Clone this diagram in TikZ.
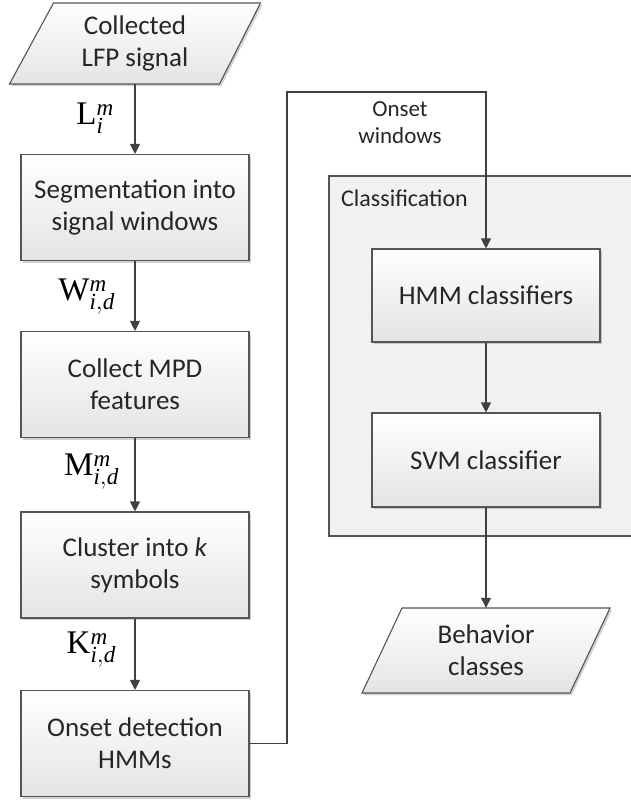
\documentclass[tikz,border=0pt]{standalone}
\usepackage{fontspec}
\setmainfont{Carlito}
\setmathrm{Liberation Serif}
\usetikzlibrary{arrows.meta,shadows}
\definecolor{edge}{HTML}{555555}
\definecolor{wire}{HTML}{404040}
\definecolor{ink}{HTML}{262626}
\definecolor{boxlow}{HTML}{E4E4E4}
\definecolor{groupfill}{HTML}{F1F1F1}
% symbol with an italic superscript and a slightly lowered italic subscript
\newcommand{\seqsym}[3]{$\mathrm{#1}^{\mathit{#2}}_{\raisebox{-3pt}{$\scriptstyle\mathit{#3}$}}$}
\begin{document}
\begin{tikzpicture}[x=1pt,y=-1pt,
  softshadow/.style={drop shadow={shadow xshift=2pt,shadow yshift=-2pt,opacity=0.18,fill=black}},
  stepbox/.style={draw=edge,line width=1.1pt,top color=white,bottom color=boxlow,
    minimum width=228pt,minimum height=106pt,inner sep=0pt,align=center,
    font=\fontsize{27}{32}\selectfont,text=ink,softshadow},
  ioshape/.style={draw=edge,line width=1.1pt,top color=white,bottom color=boxlow,softshadow},
  iotext/.style={inner sep=0pt,align=center,font=\fontsize{27}{32}\selectfont,text=ink},
  flow/.style={draw=wire,line width=1.1pt,-{Triangle[length=10pt,width=10pt]}},
  sym/.style={inner sep=0pt,anchor=east,text=black,font=\fontsize{33}{33}\selectfont},
  note/.style={inner sep=0pt,align=center,text=ink,font=\fontsize{23}{27}\selectfont}]
\useasboundingbox (0,0) rectangle (630,801);
\fill[white] (0,0) rectangle (630,801);

% classification group
\draw[draw=edge,line width=1.1pt,fill=groupfill] (329,176) rectangle (640,536);
\node[inner sep=0pt,anchor=west,text=ink,font=\fontsize{24}{28}\selectfont] (grp) at (341,198) {Classification};

% input and output parallelograms
\path[ioshape] (53.5,3) -- (260.5,3) -- (219.5,84) -- (9.5,84) -- cycle;
\node[iotext,minimum width=166pt,minimum height=81pt] (in) at (135,43.5) {Collected\\LFP signal};
\path[ioshape] (402,608) -- (610,608) -- (570,693) -- (362,693) -- cycle;
\node[iotext,minimum width=166pt,minimum height=85pt] (out) at (486,650.5) {Behavior\\classes};

% processing steps
\node[stepbox] (seg) at (135,207.5) {Segmentation into\\signal windows};
\node[stepbox] (mpd) at (135,384.5) {Collect MPD\\features};
\node[stepbox] (clu) at (135,565) {Cluster into \textit{k}\\symbols};
\node[stepbox] (ons) at (135,743.5) {Onset detection\\HMMs};
\node[stepbox,minimum height=93pt] (hmm) at (486,295.5) {HMM classifiers};
\node[stepbox,minimum height=94pt] (svm) at (486,460) {SVM classifier};

% connectors
\draw[flow] (in.south) -- (seg.north);
\draw[flow] (seg.south) -- (mpd.north);
\draw[flow] (mpd.south) -- (clu.north);
\draw[flow] (clu.south) -- (ons.north);
\coordinate (up) at (287,92);
\coordinate (over) at (486,92);
\draw[flow] (ons.east) -| (up) -- (over) -- (hmm.north);
\draw[flow] (hmm.south) -- (svm.north);
\draw[flow] (svm.south) -- (out.north);

% connector labels
\node[sym] (lL) at (114,118) {\seqsym{L}{m}{i}};
\node[sym] (lW) at (115,297) {\seqsym{W}{m}{i,d}};
\node[sym] (lM) at (119,472) {\seqsym{M}{m}{i,d}};
\node[sym] (lK) at (116,650) {\seqsym{K}{m}{i,d}};
\node[note] (ow) at (400,123) {Onset\\windows};
\end{tikzpicture}
\end{document}
